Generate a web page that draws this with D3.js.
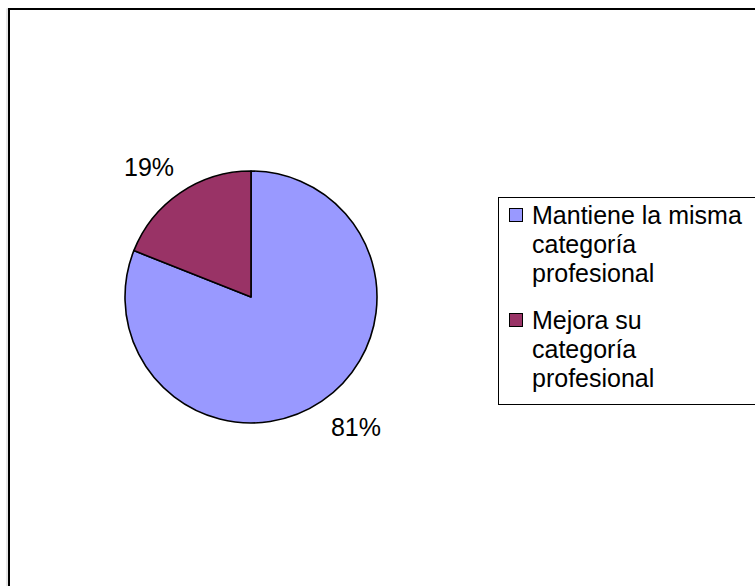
<!DOCTYPE html>
<html>
<head>
<meta charset="utf-8">
<script src="https://cdn.jsdelivr.net/npm/d3@7"></script>
<style>
  html, body { margin: 0; padding: 0; background: #fff; }
  svg { display: block; }
  text { font-family: "Liberation Sans", Arial, sans-serif; fill: #000; }
</style>
</head>
<body>
<svg id="chart" width="755" height="586"></svg>
<script>
const categories = ["Mantiene la misma categoría profesional", "Mejora su categoría profesional"];
const legendLines = [["Mantiene la misma", "categoría", "profesional"], ["Mejora su", "categoría", "profesional"]];
const values = [81, 19];
const pctLabels = ["81%", "19%"];
const colors = ["#9999FF", "#993366"];

const svg = d3.select("#chart");
const W = 755, H = 586;

// outer chart border (extends past right/bottom edge)
svg.append("rect").attr("x", 7).attr("y", 9).attr("width", W).attr("height", H)
  .attr("fill", "none").attr("stroke", "#d0d0d0").attr("stroke-width", 1);
svg.append("rect").attr("x", 9).attr("y", 9).attr("width", W + 20).attr("height", H + 20)
  .attr("fill", "#fff").attr("stroke", "#000").attr("stroke-width", 2);

const cx = 251, cy = 297, r = 126;
const pie = d3.pie().sort(null).value(d => d)(values);
const arc = d3.arc().innerRadius(0).outerRadius(r);

const g = svg.append("g").attr("transform", `translate(${cx},${cy})`);
g.selectAll("path").data(pie).join("path")
  .attr("d", arc)
  .attr("fill", (d, i) => colors[i])
  .attr("stroke", "#000").attr("stroke-width", 1.6).attr("stroke-linejoin", "round");

// percentage labels outside the pie
const labelPos = [[105, 139], [-102, -121]];
g.selectAll("text.pct").data(pie).join("text")
  .attr("class", "pct")
  .attr("x", (d, i) => labelPos[i][0])
  .attr("y", (d, i) => labelPos[i][1])
  .attr("text-anchor", "middle")
  .attr("font-size", 25)
  .text((d, i) => pctLabels[i]);

// legend
const lx = 498, ly = 197, lh = 207;
svg.append("rect").attr("x", lx + 0.5).attr("y", ly + 0.5).attr("width", 300).attr("height", lh)
  .attr("fill", "#fff").attr("stroke", "#000").attr("stroke-width", 1);

const lineH = 29;
const groupStarts = [224, 329];
const lg = svg.append("g");
legendLines.forEach((lines, i) => {
  const y0 = groupStarts[i];
  lg.append("rect").attr("x", 509.5).attr("y", y0 - 15.5).attr("width", 13).attr("height", 13)
    .attr("fill", colors[i]).attr("stroke", "#000").attr("stroke-width", 1);
  lines.forEach((t, j) => {
    lg.append("text").attr("x", 532).attr("y", y0 + j * lineH)
      .attr("font-size", 25).text(t);
  });
});
</script>
</body>
</html>
